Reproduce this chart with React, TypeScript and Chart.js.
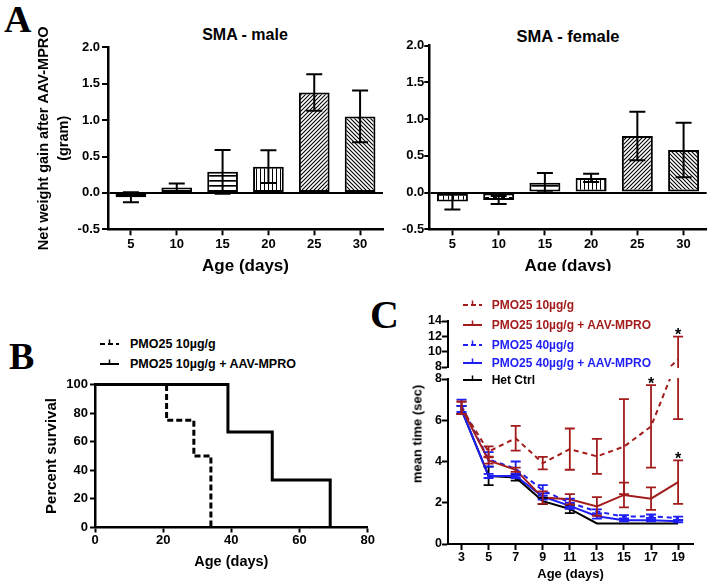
import React, { useEffect, useRef } from 'react';
import { Chart, registerables } from 'chart.js';

Chart.register(...registerables);

const SANS = "'Liberation Sans', Arial, Helvetica, sans-serif";
const SERIF = "'Liberation Serif', 'Times New Roman', Times, serif";
const RED = '#A31C1C';
const BLUE = '#1E1EF5';

// ---------- Panel A data ----------
const ageGroups = ['5', '10', '15', '20', '25', '30'];
const maleGain = [-0.06, 0.075, 0.29, 0.36, 1.38, 1.05];
const maleSem = [0.07, 0.055, 0.3, 0.225, 0.25, 0.355];
const femaleGain = [-0.12, -0.1, 0.135, 0.2, 0.77, 0.58];
const femaleSem = [0.11, 0.055, 0.13, 0.055, 0.33, 0.37];
const barFills = ['grid', 'dashes', 'hlines', 'vlines', 'diagUp', 'diagDown'];

// ---------- Panel B data ----------
const survDaysPmo = [0, 21, 29, 34];
const survPctPmo = [100, 75, 50, 0];
const survDaysAav = [0, 39, 52, 69];
const survPctAav = [100, 66.7, 33.3, 0];

// ---------- Panel C data ----------
const cDays = [3, 5, 7, 9, 11, 13, 15, 17, 19];
const pmo10 = [6.6, 4.48, 5.13, 3.92, 4.6, 4.25, 4.72, 5.7, 9.0];
const pmo10Sem = [0.3, 0.25, 0.6, 0.3, 1.0, 0.85, 2.3, 2.0, 2.95];
const pmo10Aav = [6.6, 4.05, 3.6, 2.25, 2.17, 1.82, 2.38, 2.2, 3.0];
const pmo10AavSem = [0.3, 0.15, 0.1, 0.3, 0.25, 0.45, 0.6, 0.55, 1.05];
const pmo40 = [6.7, 4.1, 3.65, 2.6, 2.0, 1.58, 1.32, 1.35, 1.25];
const pmo40Sem = [0.3, 0.35, 0.35, 0.25, 0.2, 0.1, 0.08, 0.08, 0.08];
const pmo40Aav = [6.5, 3.3, 3.3, 2.3, 1.85, 1.35, 1.15, 1.15, 1.1];
const pmo40AavSem = [0.2, 0.1, 0.1, 0.15, 0.15, 0.12, 0.05, 0.05, 0.05];
const hetCtrl = [6.5, 3.3, 3.22, 2.08, 1.7, 1.0, 1.0, 1.0, 1.0];
const hetCtrlSem = [0.2, 0.45, 0.15, 0.15, 0.2, 0, 0, 0, 0];
const starDaysPmo10 = [17, 19];
const starDaysPmo10Aav = [19];

// ---------- helpers ----------
function makeFill(kind: string): any {
  const c = document.createElement('canvas');
  let w = 4;
  let h = 4;
  if (kind === 'grid') { w = 5; h = 5; }
  if (kind === 'dashes') { w = 8; h = 5; }
  if (kind === 'hlines') { w = 5; h = 5; }
  c.width = w;
  c.height = h;
  const g = c.getContext('2d') as CanvasRenderingContext2D;
  g.fillStyle = '#fff';
  g.fillRect(0, 0, w, h);
  g.fillStyle = '#000';
  g.strokeStyle = '#000';
  if (kind === 'grid') {
    g.fillRect(0, 0, w, 1);
    g.fillRect(0, 0, 1, h);
  } else if (kind === 'dashes') {
    g.fillRect(1, 2, 4, 2);
  } else if (kind === 'hlines') {
    g.fillRect(0, 0, w, 1);
    g.fillStyle = '#555';
    g.fillRect(0, 1, w, 1);
  } else if (kind === 'vlines') {
    g.fillRect(0, 0, 1, h);
  } else if (kind === 'diagUp') {
    g.lineWidth = 1.1;
    g.beginPath();
    g.moveTo(0, h); g.lineTo(w, 0);
    g.moveTo(-1, 1); g.lineTo(1, -1);
    g.moveTo(w - 1, h + 1); g.lineTo(w + 1, h - 1);
    g.stroke();
  } else if (kind === 'diagDown') {
    g.lineWidth = 1.1;
    g.beginPath();
    g.moveTo(0, 0); g.lineTo(w, h);
    g.moveTo(-1, h - 1); g.lineTo(1, h + 1);
    g.moveTo(w - 1, -1); g.lineTo(w + 1, 1);
    g.stroke();
  }
  return g.createPattern(c, 'repeat');
}

const errorBarPlugin = {
  id: 'errorBars',
  afterDatasetsDraw(chart: any, _args: any, opts: any) {
    const ctx = chart.ctx;
    const dsets = chart.data.datasets;
    for (let di = dsets.length - 1; di >= 0; di--) {
      const ds = dsets[di];
      if (!ds.errors) continue;
      const meta = chart.getDatasetMeta(di);
      const xs = chart.scales[meta.xAxisID];
      const ys = chart.scales[meta.yAxisID];
      ctx.save();
      ctx.beginPath();
      ctx.rect(xs.left - 12, ys.top - 1, xs.right - xs.left + 24, ys.bottom - ys.top + 2);
      ctx.clip();
      ctx.strokeStyle = ds.errorColor || '#000';
      ctx.lineWidth = opts.lineWidth || 2;
      ctx.setLineDash([]);
      const h = opts.capHalf || 6;
      meta.data.forEach((el: any, i: number) => {
        const raw = ds.data[i];
        const v = typeof raw === 'number' ? raw : raw.y;
        const e = ds.errors[i];
        if (!e) return;
        const x = el.x;
        const yHi = ys.getPixelForValue(v + e);
        const yLo = ys.getPixelForValue(v - e);
        ctx.beginPath();
        ctx.moveTo(x, yHi); ctx.lineTo(x, yLo);
        ctx.moveTo(x - h, yHi); ctx.lineTo(x + h, yHi);
        ctx.moveTo(x - h, yLo); ctx.lineTo(x + h, yLo);
        ctx.stroke();
      });
      ctx.restore();
    }
  },
};

const starPlugin = {
  id: 'stars',
  afterDatasetsDraw(chart: any) {
    const ctx = chart.ctx;
    chart.data.datasets.forEach((ds: any, di: number) => {
      if (!ds.stars || !ds.stars.length) return;
      const meta = chart.getDatasetMeta(di);
      const ys = chart.scales[meta.yAxisID];
      ds.stars.forEach((day: number) => {
        const i = ds.data.findIndex((p: any) => p.x === day);
        if (i < 0) return;
        const top = ds.data[i].y + ds.errors[i];
        if (top < ys.min || top > ys.max) return;
        const el = meta.data[i];
        ctx.save();
        ctx.font = `bold 16px ${SANS}`;
        ctx.fillStyle = '#000';
        ctx.textAlign = 'center';
        ctx.textBaseline = 'alphabetic';
        ctx.fillText('*', el.x, ys.getPixelForValue(top) + 3.5);
        ctx.restore();
      });
    });
  },
};

const tickFont = (size: number) => ({ family: SANS, size, weight: 'bold' as const });

function weightChart(means: number[], sems: number[], o: any): any {
  const fills = barFills.map(makeFill);
  return {
    type: 'bar',
    data: {
      labels: ageGroups,
      datasets: [{
        data: means, errors: sems, errorColor: '#000',
        backgroundColor: fills, borderColor: '#000', borderWidth: 2, borderSkipped: false,
        categoryPercentage: 1, barPercentage: 0.67,
      }],
    },
    options: {
      responsive: false, animation: false, devicePixelRatio: 1, events: [],
      layout: { padding: { left: 0, top: o.padTop, right: o.padRight, bottom: 0 } },
      plugins: { legend: { display: false }, tooltip: { enabled: false }, errorBars: { capHalf: 8, lineWidth: 2 } },
      scales: {
        x: {
          grid: { drawOnChartArea: false, offset: false, tickLength: 6, tickWidth: 2, tickColor: '#000', color: '#000' },
          border: { color: '#000', width: 2.5 },
          ticks: { autoSkip: false, maxRotation: 0, padding: 1, color: '#000', font: tickFont(13) },
          title: { display: true, text: 'Age (days)', color: '#000', font: { family: SANS, size: 17, weight: 'bold', lineHeight: 1.2 }, padding: { top: 0, bottom: 13.3 } },
          afterFit: (s: any) => { s.height = 60.7; },
        },
        y: {
          min: -0.5, max: 2,
          ticks: { stepSize: 0.5, autoSkip: false, padding: o.tickPad, color: '#000', font: tickFont(13), callback: (v: any) => Number(v).toFixed(1) },
          grid: {
            color: (c: any) => (c.tick && c.tick.value === 0 ? '#000' : 'rgba(0,0,0,0)'),
            lineWidth: 2, tickLength: o.tickLen, tickWidth: 2, tickColor: '#000',
          },
          border: { color: '#000', width: 2.5 },
          title: {
            display: o.yTitle, text: ['Net weight gain after AAV-MPRO', '(gram)'], color: '#000',
            font: { family: SANS, size: 14.5, weight: 'bold', lineHeight: 20 / 14.5 }, padding: { top: 34, bottom: 0 },
          },
          afterFit: (s: any) => { s.width = o.yWidth; },
        },
      },
    },
    plugins: [errorBarPlugin],
  };
}

function survivalChart(): any {
  return {
    type: 'line',
    data: {
      datasets: [
        { data: survDaysAav.map((d, i) => ({ x: d, y: survPctAav[i] })), order: -1, borderColor: '#000', borderWidth: 3, stepped: 'before', pointRadius: 0, fill: false, clip: false },
        { data: survDaysPmo.map((d, i) => ({ x: d, y: survPctPmo[i] })), order: 1, borderColor: '#000', borderWidth: 3, borderDash: [6, 3], stepped: 'before', pointRadius: 0, fill: false, clip: false },
      ],
    },
    options: {
      responsive: false, animation: false, devicePixelRatio: 1, events: [],
      layout: { padding: { left: 0, top: 14.5, right: 22.3, bottom: 0 } },
      plugins: { legend: { display: false }, tooltip: { enabled: false } },
      scales: {
        x: {
          type: 'linear', min: 0, max: 80,
          ticks: { stepSize: 20, padding: 0, color: '#000', font: tickFont(13), maxRotation: 0 },
          grid: { drawOnChartArea: false, tickLength: 5, tickWidth: 2, tickColor: '#000' },
          border: { color: '#000', width: 2.5 },
          title: { display: true, text: 'Age (days)', color: '#000', font: { family: SANS, size: 14.5, weight: 'bold', lineHeight: 1.2 }, padding: { top: 0, bottom: 13.3 } },
          afterFit: (s: any) => { s.height = 56.5; },
        },
        y: {
          min: 0, max: 100,
          ticks: { stepSize: 20, padding: 2, color: '#000', font: tickFont(13) },
          grid: { drawOnChartArea: false, tickLength: 5, tickWidth: 2, tickColor: '#000' },
          border: { color: '#000', width: 2.5 },
          title: { display: true, text: 'Percent survival', color: '#000', font: { family: SANS, size: 15, weight: 'bold', lineHeight: 1.2 }, padding: { top: 23.3, bottom: 0 } },
          afterFit: (s: any) => { s.width = 75; },
        },
      },
    },
  };
}

function timingChart(): any {
  const series = [
    { vals: pmo10, sem: pmo10Sem, color: RED, dash: [5, 4], stars: starDaysPmo10 },
    { vals: pmo10Aav, sem: pmo10AavSem, color: RED, dash: [], stars: starDaysPmo10Aav },
    { vals: pmo40, sem: pmo40Sem, color: BLUE, dash: [5, 4], stars: [] },
    { vals: pmo40Aav, sem: pmo40AavSem, color: BLUE, dash: [], stars: [] },
    { vals: hetCtrl, sem: hetCtrlSem, color: '#000', dash: [], stars: [] },
  ];
  const datasets = ['yTop', 'yBot'].flatMap((axis) => series.map((s) => ({
    yAxisID: axis,
    data: cDays.map((d, i) => ({ x: d, y: s.vals[i] })),
    errors: s.sem, errorColor: s.color, stars: s.stars,
    borderColor: s.color, borderWidth: 2, borderDash: s.dash,
    pointRadius: 0, fill: false, tension: 0, clip: 0,
  })));
  const yTicks = { stepSize: 2, autoSkip: false, padding: 0, color: '#000', font: tickFont(12.5) };
  const yGrid = { drawOnChartArea: false, tickLength: 6, tickWidth: 2, tickColor: '#000' };
  return {
    type: 'line',
    data: { datasets },
    options: {
      responsive: false, animation: false, devicePixelRatio: 1, events: [],
      layout: { padding: { left: 0, top: 23, right: 16, bottom: 0 } },
      plugins: { legend: { display: false }, tooltip: { enabled: false }, errorBars: { capHalf: 5, lineWidth: 1.8 } },
      scales: {
        x: {
          type: 'linear', min: 2, max: 20.1,
          afterBuildTicks: (s: any) => { s.ticks = cDays.map((v) => ({ value: v })); },
          ticks: { autoSkip: false, maxRotation: 0, padding: 0, color: '#000', font: tickFont(12.5), callback: (v: any) => String(v) },
          grid: { drawOnChartArea: false, tickLength: 6, tickWidth: 2, tickColor: '#000' },
          border: { color: '#000', width: 2 },
          title: { display: true, text: 'Age (days)', color: '#000', font: { family: SANS, size: 13, weight: 'bold', lineHeight: 1.2 }, padding: { top: 0, bottom: 2.2 } },
          afterFit: (s: any) => { s.height = 40; },
        },
        yTop: {
          type: 'linear', position: 'left', stack: 'time', stackWeight: 46, weight: 3,
          min: 8, max: 14, ticks: yTicks, grid: yGrid, border: { color: '#000', width: 2 },
          afterFit: (s: any) => { s.width = 58; },
        },
        yGap: {
          type: 'linear', position: 'left', stack: 'time', stackWeight: 12, weight: 2,
          min: 0, max: 1, ticks: { display: false }, grid: { display: false }, border: { display: false },
          afterFit: (s: any) => { s.width = 58; },
        },
        yBot: {
          type: 'linear', position: 'left', stack: 'time', stackWeight: 165, weight: 1,
          min: 0, max: 8, ticks: yTicks, grid: yGrid, border: { color: '#000', width: 2 },
          afterFit: (s: any) => { s.width = 58; },
        },
      },
    },
    plugins: [errorBarPlugin, starPlugin],
  };
}

function ChartBox({ left, top, width, height, make }: any) {
  const ref = useRef<HTMLCanvasElement>(null);
  useEffect(() => {
    const chart = new Chart(ref.current as HTMLCanvasElement, make());
    return () => chart.destroy();
  }, []);
  return <canvas ref={ref} width={width} height={height} style={{ position: 'absolute', left, top, width, height }} />;
}

function Txt({ x, y, text, size, color = '#000', align = 'left', rotate = false, weight = 'bold' }: any) {
  const tx = align === 'center' ? '-50%' : align === 'right' ? '-100%' : '0';
  return (
    <div style={{
      position: 'absolute', left: x, top: y, fontFamily: SANS, fontSize: size, fontWeight: weight as any,
      color, lineHeight: 1, whiteSpace: 'nowrap',
      transform: `translate(${tx}, -50%)` + (rotate ? ' rotate(-90deg)' : ''),
    }}>{text}</div>
  );
}

function Letter({ ch, left, capTop, size }: any) {
  return (
    <div style={{ position: 'absolute', left, top: capTop - 0.1755 * size, fontFamily: SERIF, fontWeight: 'bold', fontSize: size, lineHeight: 1, color: '#000' }}>{ch}</div>
  );
}

function Sample({ x, y, w, color, dash }: any) {
  return (
    <svg width={w} height={12} style={{ position: 'absolute', left: x, top: y - 6 }}>
      <line x1={0} y1={6} x2={w} y2={6} stroke={color} strokeWidth={2} strokeDasharray={dash ? '5 3' : undefined} />
      <line x1={w / 2} y1={1.5} x2={w / 2} y2={6} stroke={color} strokeWidth={1.5} />
    </svg>
  );
}

export default function App() {
  const legendC = [
    { y: 305, color: RED, dash: true, text: 'PMO25 10µg/g' },
    { y: 325, color: RED, dash: false, text: 'PMO25 10µg/g + AAV-MPRO' },
    { y: 344.5, color: BLUE, dash: true, text: 'PMO25 40µg/g' },
    { y: 363, color: BLUE, dash: false, text: 'PMO25 40µg/g + AAV-MPRO' },
    { y: 379.5, color: '#000', dash: false, text: 'Het Ctrl' },
  ];
  const legendB = [
    { y: 343.5, dash: true, text: 'PMO25 10µg/g' },
    { y: 364, dash: false, text: 'PMO25 10µg/g + AAV-MPRO' },
  ];
  return (
    <div style={{ position: 'absolute', left: 0, top: 0, width: 709, height: 584, background: '#fff', overflow: 'hidden' }}>
      {/* Panel A */}
      <Letter ch="A" left={4} capTop={7} size={38} />
      <Txt x={245} y={34.5} size={16} align="center" text="SMA - male" />
      <Txt x={568} y={35.5} size={16.5} align="center" text="SMA - female" />
      <ChartBox left={0} top={20} width={388} height={270}
        make={() => weightChart(maleGain, maleSem, { padTop: 27.3, padRight: 5, yWidth: 108, tickLen: 6, tickPad: 2, yTitle: true })} />
      <div style={{ position: 'absolute', left: 388, top: 20, width: 321, height: 251, overflow: 'hidden' }}>
        <ChartBox left={0} top={0} width={321} height={270}
          make={() => weightChart(femaleGain, femaleSem, { padTop: 25.7, padRight: 2.3, yWidth: 41.3, tickLen: 5, tickPad: 0, yTitle: false })} />
      </div>

      {/* Panel B */}
      <Letter ch="B" left={9} capTop={343.3} size={38} />
      {legendB.map((r) => (
        <React.Fragment key={r.text}>
          <Sample x={100} y={r.y} w={19} color="#000" dash={r.dash} />
          <Txt x={130} y={r.y} size={12.5} text={r.text} />
        </React.Fragment>
      ))}
      <ChartBox left={20} top={370} width={370} height={214} make={survivalChart} />

      {/* Panel C */}
      <Letter ch="C" left={370} capTop={302.5} size={40} />
      <ChartBox left={390} top={298} width={319} height={286} make={timingChart} />
      <Txt x={417} y={433.5} size={13} align="center" rotate text="mean time (sec)" />
      {legendC.map((r) => (
        <React.Fragment key={r.text}>
          <Sample x={463} y={r.y} w={19} color={r.color} dash={r.dash} />
          <Txt x={491.7} y={r.y} size={12} color={r.color} text={r.text} />
        </React.Fragment>
      ))}
    </div>
  );
}
